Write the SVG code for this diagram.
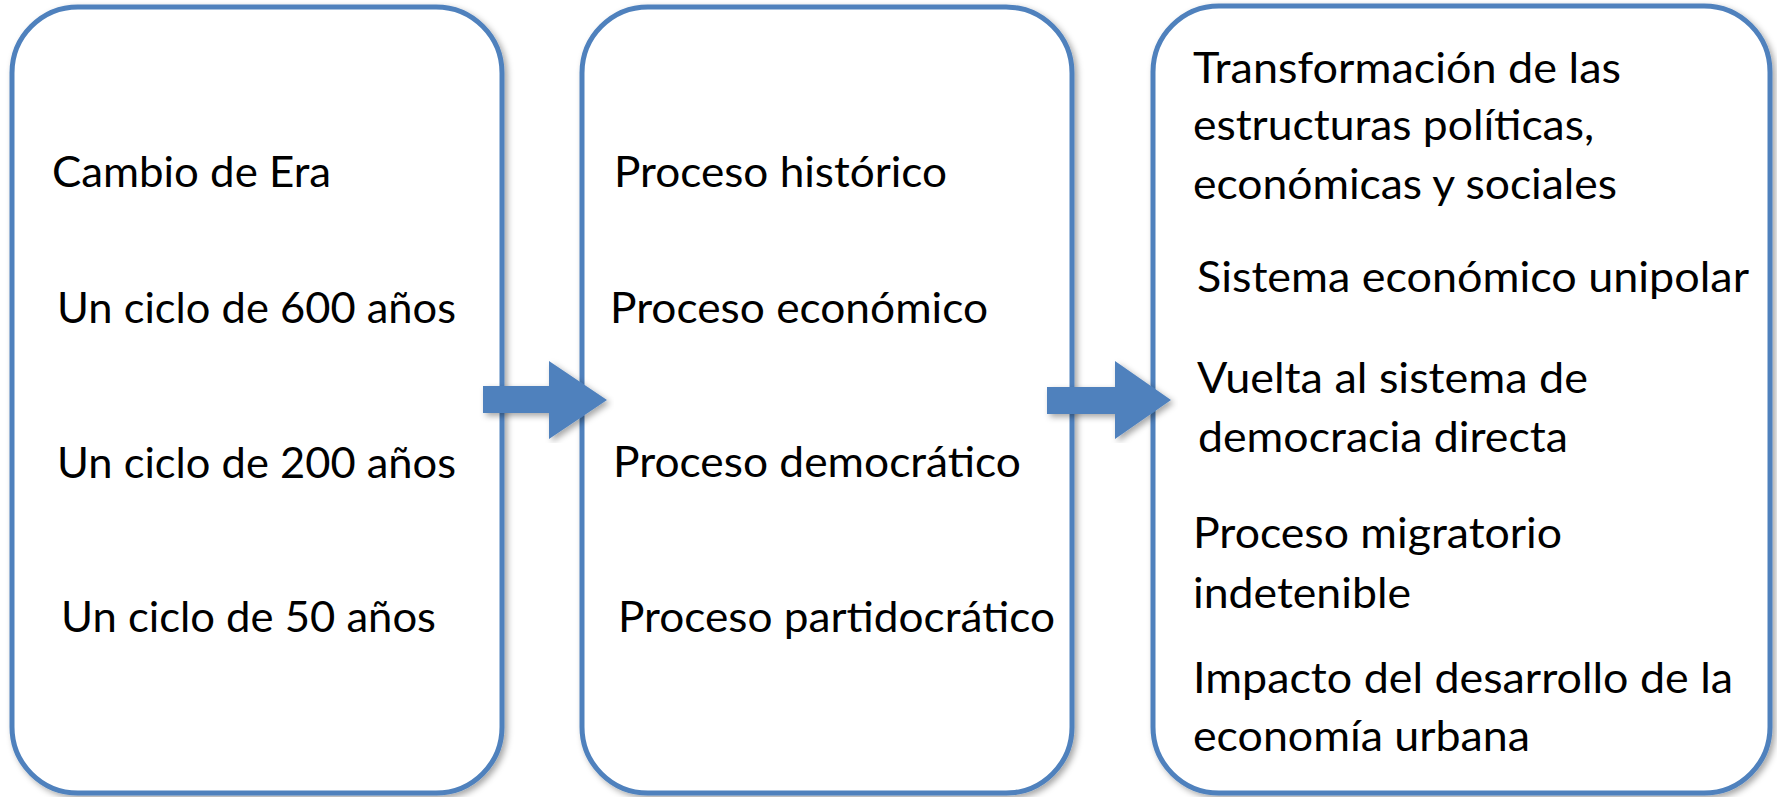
<svg xmlns="http://www.w3.org/2000/svg" width="1777" height="797" viewBox="0 0 1777 797">
  <defs>
    <filter id="shadow" x="-5%" y="-5%" width="110%" height="110%">
      <feDropShadow dx="3" dy="3" stdDeviation="3" flood-color="#000000" flood-opacity="0.35"/>
    </filter>
  </defs>
  <style>
    .box { fill: #ffffff; stroke: #4f81bd; stroke-width: 5; filter: url(#shadow); }
    .arrow { fill: #4f81bd; stroke: none; filter: url(#shadow); }
    text { font-family: Lato, "Open Sans", "Liberation Sans", sans-serif; font-size: 42px; fill: #000000; }
  </style>
  <rect width="1777" height="797" fill="#ffffff"/>

  <g id="box-era">
    <rect class="box" x="12" y="7" width="490" height="786" rx="66" ry="66"/>
    <text x="52" y="187" textLength="279" lengthAdjust="spacingAndGlyphs">Cambio de Era</text>
    <text x="57" y="323" textLength="399" lengthAdjust="spacingAndGlyphs">Un ciclo de 600 años</text>
    <text x="57" y="478" textLength="399" lengthAdjust="spacingAndGlyphs">Un ciclo de 200 años</text>
    <text x="61" y="632" textLength="375" lengthAdjust="spacingAndGlyphs">Un ciclo de 50 años</text>
  </g>

  <g id="box-procesos">
    <rect class="box" x="582" y="7" width="490" height="786" rx="66" ry="66"/>
    <text x="614" y="187" textLength="333" lengthAdjust="spacingAndGlyphs">Proceso histórico</text>
    <text x="610" y="323" textLength="378" lengthAdjust="spacingAndGlyphs">Proceso económico</text>
    <text x="613" y="477" textLength="408" lengthAdjust="spacingAndGlyphs">Proceso democrático</text>
    <text x="618" y="632" textLength="437" lengthAdjust="spacingAndGlyphs">Proceso partidocrático</text>
  </g>

  <g id="box-consecuencias">
    <rect class="box" x="1153" y="6" width="617" height="787" rx="66" ry="66"/>
    <text x="1193" y="83" textLength="428" lengthAdjust="spacingAndGlyphs">Transformación de las</text>
    <text x="1193" y="140" textLength="401" lengthAdjust="spacingAndGlyphs">estructuras políticas,</text>
    <text x="1193" y="199" textLength="424" lengthAdjust="spacingAndGlyphs">económicas y sociales</text>
    <text x="1197" y="292" textLength="552" lengthAdjust="spacingAndGlyphs">Sistema económico unipolar</text>
    <text x="1197" y="393" textLength="391" lengthAdjust="spacingAndGlyphs">Vuelta al sistema de</text>
    <text x="1198" y="452" textLength="370" lengthAdjust="spacingAndGlyphs">democracia directa</text>
    <text x="1193" y="548" textLength="369" lengthAdjust="spacingAndGlyphs">Proceso migratorio</text>
    <text x="1193" y="608" textLength="218" lengthAdjust="spacingAndGlyphs">indetenible</text>
    <text x="1193" y="693" textLength="540" lengthAdjust="spacingAndGlyphs">Impacto del desarrollo de la</text>
    <text x="1193" y="751" textLength="337" lengthAdjust="spacingAndGlyphs">economía urbana</text>
  </g>

  <g id="connectors">
    <polygon class="arrow" points="483,386 549,386 549,361 607,400 549,439 549,413 483,413"/>
    <polygon class="arrow" points="1047,387 1115,387 1115,361 1171,400 1115,439 1115,414 1047,414"/>
  </g>
</svg>
